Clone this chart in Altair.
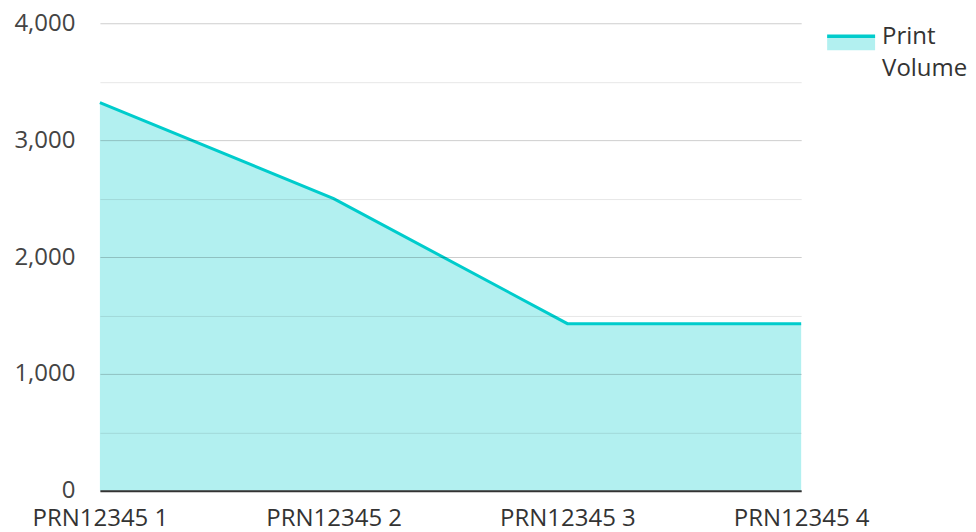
import altair as alt
import pandas as pd

printers = ["PRN12345 1", "PRN12345 2", "PRN12345 3", "PRN12345 4"]
print_volume = [3320, 2500, 1430, 1430]
series_name = ["Print Volume"] * 4
y_ticks = [0, 500, 1000, 1500, 2000, 2500, 3000, 3500, 4000]

df = pd.DataFrame({"printer": printers, "volume": print_volume, "series": series_name})

x_enc = alt.X(
    "printer:N",
    sort=printers,
    scale=alt.Scale(type="point", padding=0),
    axis=alt.Axis(
        title=None, labelAngle=0, ticks=False, grid=False,
        domainColor="#333333", domainWidth=2, labelPadding=16,
        labelFontSize=24, labelColor="#333333", zindex=1,
    ),
)
y_enc = alt.Y(
    "volume:Q",
    scale=alt.Scale(domain=[0, 4000], nice=False),
    axis=alt.Axis(
        title=None, values=y_ticks, ticks=False, domain=False,
        labelExpr="datum.value % 1000 === 0 ? format(datum.value, ',') : ''",
        labelFontSize=24, labelColor="#444444", labelPadding=25,
        gridColor={"condition": {"test": "datum.value % 1000 === 0", "value": "rgba(0,0,0,0.2)"},
                   "value": "rgba(0,0,0,0.1)"},
        zindex=1,
    ),
)

area = alt.Chart(df).mark_area(line=False).encode(
    x=x_enc,
    y=y_enc,
    fill=alt.Fill(
        "series:N",
        scale=alt.Scale(range=["#b2f0f0"]),
        legend=alt.Legend(
            title=None,
            orient="none",
            legendX=734,
            legendY=-4,
            symbolType="M-1.5,-0.06 L1.5,-0.06 L1.5,0.82 L-1.5,0.82 Z",
            symbolSize=1024,
            symbolStrokeColor="#00cccc",
            symbolStrokeWidth=3.5,
            symbolDash=[48, 1000],
            labelExpr="split(datum.label, ' ')",
            labelFontSize=24,
            labelColor="#333333",
            labelOffset=13,
            labelLimit=200,
        ),
    ),
)

line = alt.Chart(df).mark_line(strokeWidth=3).encode(
    x=x_enc,
    y=y_enc,
    stroke=alt.Stroke("series:N", scale=alt.Scale(range=["#00cccc"]), legend=None),
)

chart = (
    alt.layer(area, line)
    .properties(width=702, height=468, padding={"left": 5, "top": 3, "right": 0, "bottom": 0})
    .configure(font="Open Sans", style={"guide-label": {"lineHeight": 32}})
    .configure_view(stroke=None)
)

chart.save("out.html", embed_options={"renderer": "svg", "actions": False})
